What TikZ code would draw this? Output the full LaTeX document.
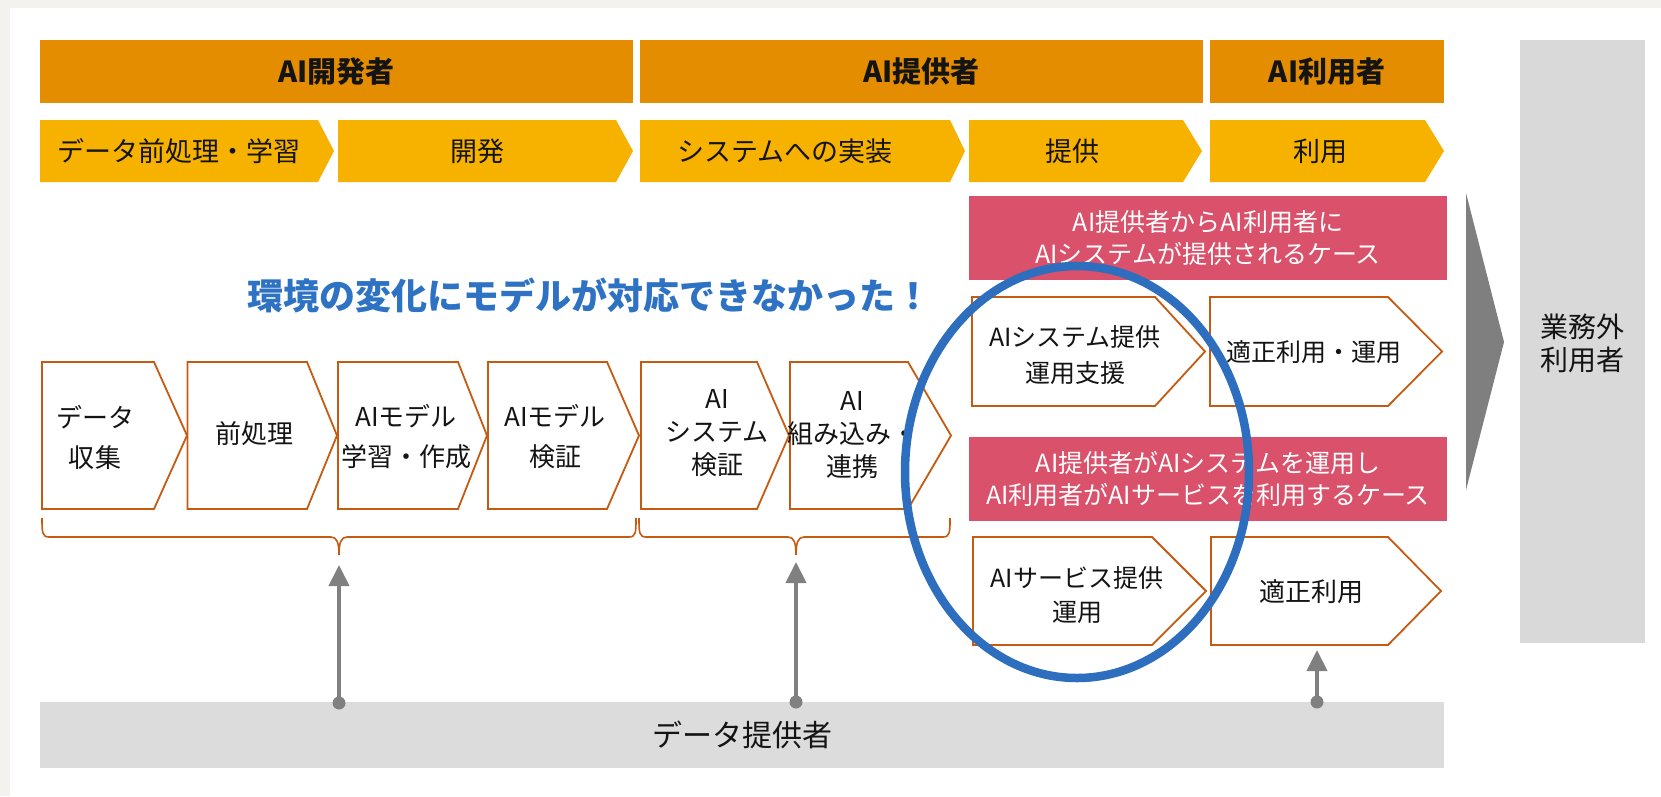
\documentclass[tikz,border=0pt]{standalone}
\usepackage{fontspec}
\setmainfont{Noto Sans CJK JP}
\usetikzlibrary{arrows.meta}
\definecolor{hdrorange}{RGB}{229,141,0}
\definecolor{chevyellow}{RGB}{247,178,0}
\definecolor{casepink}{RGB}{217,81,106}
\definecolor{edgeorange}{RGB}{197,90,17}
\definecolor{boxgrey}{RGB}{217,217,217}
\definecolor{bargrey}{RGB}{220,220,220}
\definecolor{arrgrey}{RGB}{128,128,128}
\definecolor{bigarr}{RGB}{127,127,127}
\definecolor{ellblue}{RGB}{46,110,190}
\definecolor{msgblue}{RGB}{46,114,196}
\definecolor{pagebg}{RGB}{244,242,239}
\definecolor{txt}{RGB}{20,20,20}
% #1 style, #2 x1, #3 y1, #4 x of top-right corner, #5 x of tip, #6 y2
\newcommand\hplate[6]{%
  \path[#1] (#2,#3) -- (#4,#3) -- (#5,{(#3+#6)/2}) -- (#4,#6) -- (#2,#6) -- cycle;}
% downward brace: #1 left x, #2 tip x, #3 right x
\newcommand\dbrace[3]{%
  \draw[braceline] (#1,518) .. controls (#1,532) and (#1,537) .. (#1+7,537)
    -- (#2-8,537) .. controls (#2-2,537) and (#2,543) .. (#2,555)
    .. controls (#2,543) and (#2+2,537) .. (#2+8,537)
    -- (#3-7,537) .. controls (#3,537) and (#3,532) .. (#3,518);}
\begin{document}
\begin{tikzpicture}[x=1pt,y=-1pt,
  hdrbox/.style={fill=hdrorange, inner sep=0, text=txt,
    font=\fontsize{29}{34}\selectfont\bfseries},
  ychev/.style={fill=chevyellow},
  ylab/.style={inner sep=0, text=txt, font=\fontsize{27}{32}\selectfont},
  wchev/.style={draw=edgeorange, line width=1.8, fill=white, line join=miter},
  blab/.style={inner sep=0, text=txt, align=center, font=\fontsize{26}{40}\selectfont},
  blabt/.style={inner sep=0, text=txt, align=center, font=\fontsize{26}{33}\selectfont},
  casebox/.style={fill=casepink, inner sep=0, text=white, align=center,
    font=\fontsize{25}{32}\selectfont},
  braceline/.style={draw=edgeorange, line width=1.6},
  garrow/.style={draw=arrgrey, line width=4, -{Triangle[width=20,length=21]}},
  gdot/.style={fill=arrgrey}
]
\useasboundingbox (0,0) rectangle (1661,796);
\fill[pagebg] (0,0) rectangle (1661,796);
\fill[white] (10,8) rectangle (1661,796);

% role headers
\node[hdrbox, minimum width=593, minimum height=63] (hdev) at (336.5,71.5) {AI開発者};
\node[hdrbox, minimum width=563, minimum height=63] (hprov) at (921.5,71.5) {AI提供者};
\node[hdrbox, minimum width=234, minimum height=63] (huse) at (1327,71.5) {AI利用者};

% phase chevrons
\hplate{ychev}{40}{120}{318}{334}{182}
\hplate{ychev}{338}{120}{616}{633}{182}
\hplate{ychev}{640}{120}{950}{965}{182}
\hplate{ychev}{969}{120}{1183}{1202}{182}
\hplate{ychev}{1210}{120}{1425}{1444}{182}
\node[ylab] (ph1) at (179,151) {データ前処理・学習};
\node[ylab] (ph2) at (477,151) {開発};
\node[ylab] (ph3) at (785,151) {システムへの実装};
\node[ylab] (ph4) at (1072,151) {提供};
\node[ylab] (ph5) at (1320,151) {利用};

% outer user box
\fill[boxgrey] (1520,40) rectangle (1645,643);
\node[inner sep=0, text=txt, align=center, font=\fontsize{28}{33}\selectfont]
  (outer) at (1582.5,343.5) {業務外\\利用者};
\fill[bigarr] (1466,193) -- (1504,342) -- (1466,490) -- cycle;

% case headers
\node[casebox, minimum width=478, minimum height=84] (case1) at (1208,238)
  {AI提供者からAI利用者に\\AIシステムが提供されるケース};
\node[casebox, minimum width=478, minimum height=84] (case2) at (1208,479)
  {AI提供者がAIシステムを運用し\\AI利用者がAIサービスを利用するケース};

% process boxes
\hplate{wchev}{42}{362}{154}{187}{509}
\hplate{wchev}{187.5}{362}{307}{337}{509}
\hplate{wchev}{338}{362}{458}{487}{509}
\hplate{wchev}{488}{362}{607}{639}{509}
\hplate{wchev}{641}{362}{757}{789}{509}
\hplate{wchev}{790}{362}{908}{951}{509}
\node[blab] (s1) at (95,437) {データ\\収集};
\node[blab] (s2) at (254,434) {前処理};
\node[blab] (s3) at (406,437) {AIモデル\\学習・作成};
\node[blab] (s4) at (555,437) {AIモデル\\検証};
\node[blabt] (s5) at (717,433) {AI\\システム\\検証};
\node[blabt] (s6) at (852,435) {AI\\組み込み・\\連携};

\hplate{wchev}{972}{297}{1155}{1205}{406}
\hplate{wchev}{1210}{297}{1388}{1442}{406}
\hplate{wchev}{973}{537}{1152}{1206}{645}
\hplate{wchev}{1211}{537}{1388}{1441}{645}
\node[blab, font=\fontsize{25}{36}\selectfont] (r1) at (1075,355) {AIシステム提供\\運用支援};
\node[blab, font=\fontsize{25}{36}\selectfont] (r2) at (1314,352) {適正利用・運用};
\node[blab, font=\fontsize{25}{34}\selectfont] (r3) at (1077,595) {AIサービス提供\\運用};
\node[blab] (r4) at (1311,592) {適正利用};

% braces
\dbrace{42}{339}{636}
\dbrace{639}{796}{950}
\coordinate (bt1) at (339,565);
\coordinate (bt2) at (796,562);
\coordinate (bt3) at (1317,650);

% data provider bar
\node[fill=bargrey, minimum width=1404, minimum height=66, inner sep=0, text=txt,
  font=\fontsize{30}{34}\selectfont] (data) at (742,735) {データ提供者};
\coordinate (d1) at (339,703);
\coordinate (d2) at (796,702);
\coordinate (d3) at (1317,702);
\draw[garrow] (d1) -- (bt1);
\draw[garrow] (d2) -- (bt2);
\draw[garrow] (d3) -- (bt3);
\fill[gdot] (d1) circle (6.5);
\fill[gdot] (d2) circle (6.5);
\fill[gdot] (d3) circle (6.5);

% message and highlight
\node[inner sep=0, text=msgblue, font=\fontsize{36}{40}\selectfont\bfseries] (msg)
  at (589,295) {環境の変化にモデルが対応できなかった！};
\draw[ellblue, line width=8.5] (1077,472) ellipse [x radius=172, y radius=206];
\end{tikzpicture}
\end{document}
